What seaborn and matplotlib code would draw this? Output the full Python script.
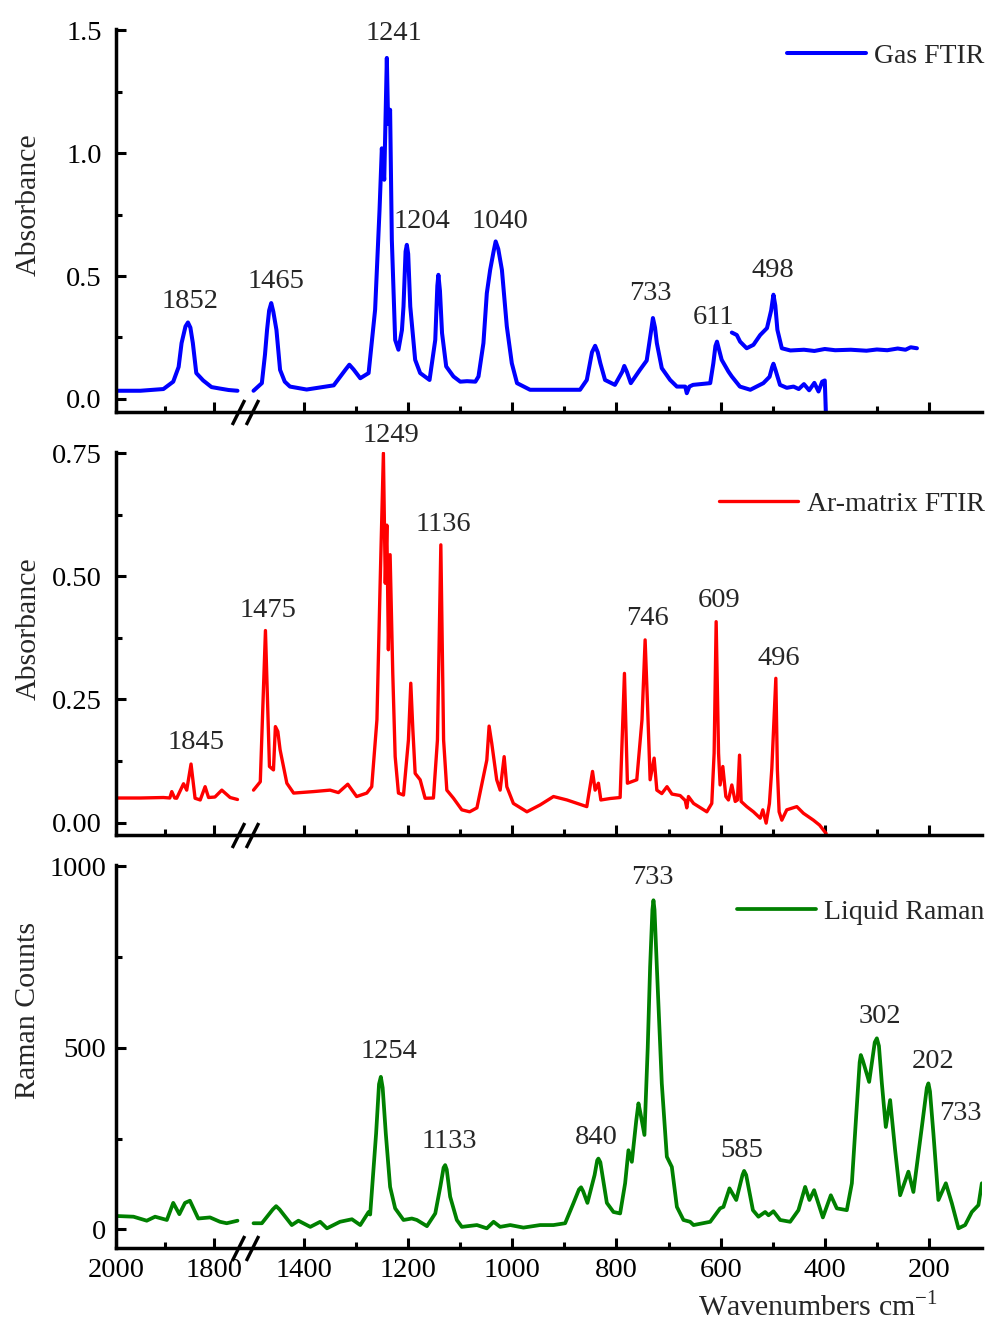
import matplotlib as mpl

mpl.use("Agg")
import matplotlib.pyplot as plt
import matplotlib.transforms as mtrans
from matplotlib.ticker import AutoMinorLocator, FormatStrFormatter
import numpy as np
import pandas as pd
import seaborn as sns

sns.set_style("ticks")
plt.rcParams["font.family"] = ["Liberation Serif", "DejaVu Serif"]
plt.rcParams["mathtext.fontset"] = "custom"
plt.rcParams["mathtext.rm"] = "Liberation Serif"
plt.rcParams["axes.edgecolor"] = "black"

# ---- data (wavenumber cm-1, value) ----
# gas FTIR
gas_hi_wn = [2000, 1950, 1903, 1883, 1872, 1866, 1858, 1853, 1848, 1843, 1836, 1822, 1805, 1788, 1770, 1752]
gas_hi_abs = [0.033, 0.033, 0.040, 0.070, 0.130, 0.227, 0.295, 0.311, 0.290, 0.227, 0.105, 0.075, 0.048, 0.042, 0.036, 0.033]
gas_lo_wn = [1497, 1481, 1475, 1471, 1467, 1463, 1459, 1453, 1446, 1437, 1427, 1395, 1343, 1320, 1313, 1305,
             1292, 1276, 1263.5,
             1255, 1250.6, 1246, 1241, 1238.5, 1234.7, 1231.4, 1225, 1218.7, 1212, 1209, 1205, 1202.6, 1200,
             1196, 1186.6, 1177, 1159, 1148, 1144, 1142, 1139, 1135, 1127, 1113, 1100, 1087, 1071, 1065,
             1055.5, 1049, 1042.6, 1036, 1032, 1027, 1020, 1010.6, 1001, 991, 966, 870, 857, 847, 841, 836, 831, 822,
             803, 789, 785, 780, 772.5, 755, 742, 734, 730, 726, 722.5, 713, 697, 684, 668, 665, 660, 653, 620,
             614, 610, 607, 603, 598, 585, 578.5, 563, 543, 518, 506, 501, 498.6, 495, 486, 473, 460, 450, 440,
             430, 420, 412, 405, 400, 398]
gas_lo_abs = [0.033, 0.064, 0.180, 0.281, 0.360, 0.390, 0.355, 0.281, 0.118, 0.070, 0.050, 0.038, 0.055, 0.120, 0.139, 0.120,
              0.084, 0.105, 0.363,
              0.770, 1.020, 0.892, 1.388, 1.120, 1.177, 0.648, 0.240, 0.200, 0.280, 0.376, 0.600, 0.627, 0.590,
              0.376, 0.159, 0.105, 0.077, 0.240, 0.460, 0.505, 0.440, 0.268, 0.132, 0.091, 0.070, 0.072, 0.070, 0.091,
              0.227, 0.430, 0.525, 0.600, 0.641, 0.610, 0.525, 0.295, 0.145, 0.064, 0.037, 0.037, 0.077, 0.190, 0.216, 0.190, 0.145, 0.077,
              0.057, 0.110, 0.134, 0.110, 0.064, 0.118, 0.156, 0.270, 0.329, 0.290, 0.227, 0.125, 0.077, 0.050, 0.050, 0.023, 0.050, 0.057, 0.064,
              0.145, 0.215, 0.233, 0.200, 0.159, 0.111, 0.091, 0.050, 0.037, 0.064, 0.090, 0.130, 0.143, 0.120, 0.057, 0.045, 0.050, 0.040, 0.060,
              0.035, 0.065, 0.030, 0.070, 0.075, -0.050]
gas_far_wn = [578.5, 569, 562.6, 550, 537, 524, 511, 503, 498.6, 495, 491, 482.5, 466, 440, 420, 400,
              380, 350, 320, 300, 280, 260, 245, 235, 223]
gas_far_abs = [0.270, 0.260, 0.233, 0.206, 0.220, 0.260, 0.288, 0.360, 0.424, 0.380, 0.281, 0.206, 0.197, 0.200, 0.195, 0.203,
               0.198, 0.200, 0.196, 0.201, 0.198, 0.205, 0.200, 0.210, 0.206]

# Ar-matrix FTIR
ar_hi_wn = [2000, 1950, 1903, 1890, 1886, 1880, 1876, 1862, 1855.5, 1846.7, 1838.5, 1828, 1818,
            1811, 1798, 1784, 1767, 1752]
ar_hi_abs = [0.050, 0.050, 0.051, 0.050, 0.063, 0.050, 0.0495, 0.079, 0.066, 0.119, 0.0495, 0.046, 0.073,
             0.051, 0.052, 0.066, 0.051, 0.047]
ar_lo_wn = [1497, 1484, 1474.1, 1466.4, 1458.7, 1455, 1450.3, 1446, 1439.5, 1433, 1420, 1382, 1350,
            1334, 1316, 1299, 1279.5, 1270, 1260, 1254, 1247.6, 1244, 1241, 1238, 1234.7, 1229.6,
            1225, 1218.7, 1209, 1199.5, 1195, 1191, 1186.6, 1177, 1167.5, 1151.5, 1143.8, 1137.3,
            1132, 1125.8, 1113, 1097, 1082, 1068, 1049, 1044.6, 1039.5, 1030, 1023.4, 1015.7, 1010.6, 998,
            972, 946.6, 921, 895, 857, 846, 841, 834.7, 830, 812, 793, 784.7, 779, 761, 751, 745,
            740.5, 735.4, 727.7, 722.5, 713, 703, 693.5, 677.8, 668, 665, 661.8, 652, 626.5, 617,
            612.5, 608.6, 604, 601, 595.8, 590, 585, 578.5, 572, 567.7, 563.7, 560.6, 549.8, 537,
            524, 519, 512.6, 506.3, 501.7, 494, 491, 487.7, 482.5, 473, 453.7, 441, 421.8, 410,
            402.6, 397.4]
ar_lo_abs = [0.066, 0.083, 0.390, 0.114, 0.107, 0.195, 0.185, 0.148, 0.114, 0.080, 0.060, 0.063, 0.066,
             0.061, 0.078, 0.053, 0.060, 0.073, 0.209, 0.479, 0.750, 0.486, 0.604, 0.351, 0.544, 0.303,
             0.134, 0.060, 0.056, 0.168, 0.283, 0.188, 0.100, 0.087, 0.0495, 0.050, 0.168, 0.564,
             0.168, 0.066, 0.0495, 0.026, 0.022, 0.030, 0.127, 0.196, 0.161, 0.087, 0.066, 0.134, 0.073, 0.039,
             0.022, 0.036, 0.053, 0.046, 0.0325, 0.104, 0.066, 0.080, 0.046, 0.049, 0.051, 0.303, 0.080, 0.087, 0.209, 0.371,
             0.242, 0.087, 0.131, 0.066, 0.059, 0.073, 0.058, 0.055, 0.045, 0.030, 0.053, 0.039, 0.022, 0.039,
             0.141, 0.408, 0.141, 0.0765, 0.114, 0.053, 0.046, 0.0765, 0.043, 0.046, 0.137, 0.043, 0.0325, 0.022,
             0.009, 0.026, -0.001, 0.039, 0.110, 0.293, 0.107, 0.022, 0.005, 0.026, 0.0325, 0.019, 0.005, -0.005,
             -0.015, -0.022]

# liquid Raman
ram_hi_wn = [2000, 1964, 1937, 1920, 1896, 1883, 1870.5, 1859, 1849, 1832, 1808, 1787.6, 1774, 1752]
ram_hi_cts = [37, 35, 24, 35, 26, 73, 42, 73, 79, 30, 33, 21, 17, 24]
ram_lo_wn = [1497, 1481, 1460, 1453.6, 1447, 1423.5, 1410.8, 1388, 1369, 1356, 1331, 1308, 1292, 1276, 1273,
             1261.6, 1256, 1252.5, 1249, 1243, 1234.7, 1225, 1209, 1193, 1183.4, 1164, 1148, 1138, 1132, 1129, 1126,
             1119.4, 1106.6,
             1097, 1068, 1049, 1036, 1023.4, 1004, 978.7, 946.6, 921, 898.6, 882.7, 872, 868, 864, 855.8, 842,
             837, 834.7, 831, 818.5, 805.8, 793, 783.4, 777, 770.5, 762, 757.8, 754, 746.3, 740, 735.4, 731,
             729, 727, 722.5, 713, 703.3, 693.7,
             684, 671.4, 658.6, 652, 620, 601, 594.6, 583, 570, 558, 554.9, 551, 538, 527.4, 514.5, 508, 498.6,
             485.7, 466.5, 450.6, 437.7, 429.5, 420.5, 403.7, 388.4, 376.9, 357.7, 348, 339.8, 333, 330.8, 327,
             314.8, 304, 300, 296, 290.4, 282.8, 274.5, 264.9, 255.3, 239.4, 229.8, 213.6, 204, 201, 198, 191.4, 181.8,
             167.5, 156, 143.3, 130.5, 117.6, 104.9, 98.4]
ram_lo_cts = [17, 17, 55, 64, 55, 12, 24, 7, 21, 3, 21, 28, 12, 48, 41,
              264, 400, 420, 390, 264, 117, 58, 26, 30, 26, 9, 44, 120, 170, 177, 165,
              90, 26,
              7, 12, 3, 21, 7, 12, 5, 12, 12, 17, 72, 110, 116, 105, 73, 150,
              190, 195, 185, 73, 48, 44, 127, 218, 186, 300, 347, 320, 260, 500, 723, 880,
              906, 880, 723, 402, 200, 172,
              62, 26, 21, 12, 21, 58, 62, 113, 81, 150, 161, 150, 53, 35, 48, 39, 50,
              26, 21, 53, 117, 81, 108, 33, 94, 58, 53, 127, 310, 460, 480, 465,
              406, 515, 526, 505, 402, 282, 356, 218, 94, 159, 103, 282, 390, 402, 380, 264, 81,
              127, 72, 3, 12, 48, 67, 127]

# peak labels: (text, wavenumber, value)
gas_labels = [("1852", 1848, 0.396), ("1465", 1454, 0.478), ("1241", 1227, 1.487),
              ("1204", 1173, 0.721), ("1040", 1023, 0.721), ("733", 735, 0.428),
              ("611", 614, 0.330), ("498", 499, 0.521)]
ar_labels = [("1845", 1836, 0.162), ("1475", 1469, 0.431), ("1249", 1234, 0.785),
             ("1136", 1133, 0.606), ("746", 741, 0.415), ("609", 603, 0.450), ("496", 488, 0.334)]
ram_labels = [("1254", 1236, 491), ("1133", 1121, 243), ("840", 839, 254), ("733", 731, 970),
              ("585", 559, 218), ("302", 294, 587), ("202", 192, 463), ("733", 140, 320)]

x_major = [2000, 1800, 1400, 1200, 1000, 800, 600, 400, 200]
x_minor = [1900, 1300, 1100, 900, 700, 500, 300]

# ---- broken x axis as a function scale ----
BRK_LO, BRK_HI, GAP, K = 1500.0, 1750.0, 25.9, 0.942


def fwd(w):
    w = np.asarray(w, dtype=float)
    return np.where(w <= BRK_LO, w,
                    np.where(w < BRK_HI, BRK_LO + (w - BRK_LO) * GAP / (BRK_HI - BRK_LO),
                             BRK_LO + GAP + (w - BRK_HI) * K))


def inv(u):
    u = np.asarray(u, dtype=float)
    return np.where(u <= BRK_LO, u,
                    np.where(u < BRK_LO + GAP, BRK_LO + (u - BRK_LO) * (BRK_HI - BRK_LO) / GAP,
                             BRK_HI + (u - BRK_LO - GAP) / K))


def seg_frame(parts):
    frames = [pd.DataFrame({"wn": w, "val": v, "seg": i}) for i, (w, v) in enumerate(parts)]
    return pd.concat(frames, ignore_index=True)


panels = [
    dict(df=seg_frame([(gas_hi_wn, gas_hi_abs), (gas_lo_wn, gas_lo_abs), (gas_far_wn, gas_far_abs)]),
         color="#0000ff", lw=2.9, name="Gas FTIR", labels=gas_labels,
         rect=[0.1176, 0.6898, 0.8794, 0.2882], ylim=(-0.052, 1.505), yticks=[0, 0.5, 1.0, 1.5],
         fmt="%.1f", ylabel="Absorbance", ypad=10, leg_y=0.93),
    dict(df=seg_frame([(ar_hi_wn, ar_hi_abs), (ar_lo_wn, ar_lo_abs)]),
         color="#ff0000", lw=2.4, name="Ar-matrix FTIR", labels=ar_labels,
         rect=[0.1176, 0.3708, 0.8794, 0.2884], ylim=(-0.025, 0.752), yticks=[0, 0.25, 0.5, 0.75],
         fmt="%.2f", ylabel="Absorbance", ypad=10, leg_y=0.865),
    dict(df=seg_frame([(ram_hi_wn, ram_hi_cts), (ram_lo_wn, ram_lo_cts)]),
         color="#008000", lw=2.7, name="Liquid Raman", labels=ram_labels,
         rect=[0.1176, 0.0593, 0.8794, 0.2891], ylim=(-52, 1004), yticks=[0, 500, 1000],
         fmt="%d", ylabel="Raman Counts", ypad=7, leg_y=0.877),
]

fig = plt.figure(figsize=(9.85, 13.27), dpi=100)

for i, p in enumerate(panels):
    ax = fig.add_axes(p["rect"])
    sns.lineplot(data=p["df"], x="wn", y="val", units="seg", estimator=None, sort=False,
                 color=p["color"], lw=p["lw"], ax=ax, legend=False,
                 solid_joinstyle="round", solid_capstyle="round")
    ax.set_xscale("function", functions=(fwd, inv))
    ax.set_xlim(2000, 98)
    ax.set_ylim(*p["ylim"])
    ax.set_xticks(x_major)
    ax.set_xticks(x_minor, minor=True)
    if i == 2:
        ax.set_xticklabels([str(t) for t in x_major])
    else:
        ax.set_xticklabels([])
    ax.set_yticks(p["yticks"])
    ax.yaxis.set_minor_locator(AutoMinorLocator(2))
    ax.yaxis.set_major_formatter(FormatStrFormatter(p["fmt"]))
    ax.tick_params(which="both", direction="in", width=2.2, top=False, right=False,
                   labelsize=20.5, colors="black")
    ax.tick_params(which="major", length=7)
    ax.tick_params(which="minor", length=4)
    ax.tick_params(axis="y", pad=p["ypad"])
    ax.tick_params(axis="x", pad=7)
    sns.despine(ax=ax)
    for s in ["left", "bottom"]:
        ax.spines[s].set_linewidth(2.5)
    ax.set_xlabel("")
    ax.set_ylabel(p["ylabel"], fontsize=21.5)
    ax.yaxis.set_label_coords(-0.086, 0.54 if i < 2 else 0.62)

    for txt, w, v in p["labels"]:
        ax.text(w, v, txt, ha="center", va="center", fontsize=20.5)

    leg = ax.legend([ax.lines[0]], [p["name"]], loc="center right", bbox_to_anchor=(1.003, p["leg_y"]),
                    frameon=False, handlelength=2.85, handletextpad=0.3, borderpad=0,
                    borderaxespad=0, fontsize=20)
    for h in leg.get_lines():
        h.set_linewidth(p["lw"])

    # break marks on the x axis
    trans = mtrans.blended_transform_factory(ax.transData, ax.transAxes)
    ax.plot([BRK_HI, BRK_LO], [0, 0], transform=trans, marker=[(-0.5, -1), (0.5, 1)],
            ms=18, mew=2.4, color="k", ls="none", clip_on=False)

    if i == 2:
        ax.set_xlabel("Wavenumbers cm$^{-1}$", fontsize=21.5)
        ax.xaxis.set_label_coords(0.81, -0.112)

fig.savefig("out.png", dpi=100)
